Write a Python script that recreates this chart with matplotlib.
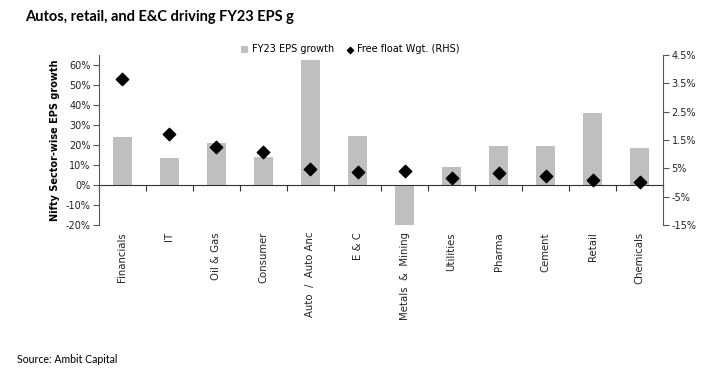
import matplotlib.pyplot as plt
import numpy as np

sectors = ['Financials', 'IT', 'Oil & Gas', 'Consumer', 'Auto  /  Auto Anc', 'E & C',
           'Metals  &  Mining', 'Utilities', 'Pharma', 'Cement', 'Retail', 'Chemicals']
eps_growth = [24.0, 13.3, 20.8, 14.2, 62.7, 24.7, -20.5, 9.0, 19.7, 19.7, 35.8, 18.3]
ff_weight = [36.4, 17.0, 12.6, 10.8, 4.7, 3.6, 4.0, 1.7, 3.2, 2.4, 0.9, 0.3]

left_ticks = [-20, -10, 0, 10, 20, 30, 40, 50, 60]
right_ticks = [-15, -5, 5, 15, 25, 35, 45]
right_labels = ['-15%', '-5%', '5%', '1.5%', '2.5%', '3.5%', '4.5%']

FONT = 'DejaVu Sans'
plt.rcParams['font.family'] = FONT

fig = plt.figure(figsize=(7.21, 3.75), dpi=100)
ax = fig.add_axes([0.137, 0.4, 0.783, 0.453])
ax2 = ax.twinx()

x = np.arange(len(sectors))
ax.bar(x, eps_growth, width=0.4, color='#BFBFBF', label='FY23 EPS growth', zorder=2)
ax2.scatter(x, ff_weight, marker='D', s=40, color='black', label='Free float Wgt. (RHS)', zorder=3)

ax.set_xlim(-0.5, len(sectors) - 0.5)
ax.set_ylim(-20, 65)
ax2.set_ylim(-15, 45)

ax.set_yticks(left_ticks)
ax.set_yticklabels([f'{v}%' for v in left_ticks], fontsize=7, color='#222222', family=FONT)
ax2.set_yticks(right_ticks)
ax2.set_yticklabels(right_labels, fontsize=7, color='#222222', family=FONT)

# x axis sits on the zero line, ticks between categories
for a in (ax, ax2):
    a.spines['top'].set_visible(False)
ax.spines['bottom'].set_position(('data', 0))
ax.spines['bottom'].set_color('#333333')
ax2.spines['bottom'].set_visible(False)
ax.spines['left'].set_color('#555555')
ax2.spines['right'].set_color('#555555')
ax2.spines['left'].set_visible(False)
ax.spines['right'].set_visible(False)

ax.set_xticks(np.arange(len(sectors) + 1) - 0.5)
ax.set_xticklabels([])
ax.tick_params(axis='x', direction='out', length=4, color='#333333')
ax.tick_params(axis='y', direction='out', length=4, color='#555555', pad=2)
ax2.tick_params(axis='y', direction='out', length=4, color='#555555', pad=2)

for i, name in enumerate(sectors):
    ax.text(i, -23.5, name, rotation=90, ha='center', va='top', fontsize=7.3,
            color='#222222', family=FONT)

ax.set_ylabel('Nifty Sector-wise EPS growth', fontsize=7, fontweight='bold', labelpad=4,
              family=FONT)

h1, l1 = ax.get_legend_handles_labels()
h2, l2 = ax2.get_legend_handles_labels()
fig.legend(h1 + h2, l1 + l2, loc='center', bbox_to_anchor=(0.486, 0.868), ncol=2, frameon=False,
           prop={'family': FONT, 'size': 7}, handlelength=0.7, handletextpad=0.4,
           columnspacing=1.3, markerscale=0.5)

fig.text(0.035, 0.955, 'Autos, retail, and E&C driving FY23 EPS g', fontsize=10.5,
         fontweight='bold', family='Lato', va='center')
fig.text(0.023, 0.042, 'Source: Ambit Capital', fontsize=7.6, family='Lato', va='center')

fig.savefig('out.png', dpi=100)
